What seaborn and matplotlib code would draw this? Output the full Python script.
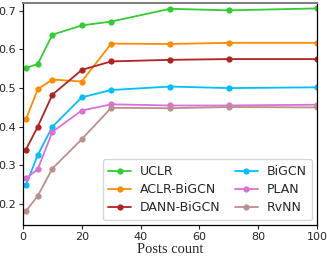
import matplotlib
matplotlib.use("Agg")
import matplotlib.pyplot as plt
import seaborn as sns
import pandas as pd

posts = [1, 5, 10, 20, 30, 50, 70, 100]
uclr = [0.552, 0.562, 0.638, 0.662, 0.672, 0.705, 0.701, 0.706]
aclr = [0.419, 0.497, 0.522, 0.517, 0.615, 0.614, 0.617, 0.617]
dann = [0.341, 0.400, 0.483, 0.547, 0.569, 0.573, 0.575, 0.575]
bigcn = [0.249, 0.327, 0.400, 0.476, 0.495, 0.504, 0.500, 0.502]
plan = [0.267, 0.290, 0.387, 0.442, 0.458, 0.455, 0.455, 0.457]
rvnn = [0.182, 0.221, 0.292, 0.368, 0.449, 0.448, 0.451, 0.450]

names = ["UCLR", "ACLR-BiGCN", "DANN-BiGCN", "BiGCN", "PLAN", "RvNN"]
series = [uclr, aclr, dann, bigcn, plan, rvnn]
colors = ["limegreen", "darkorange", "firebrick", "deepskyblue", "orchid", "rosybrown"]

rows = []
for n, s in zip(names, series):
    for x, y in zip(posts, s):
        rows.append({"Posts count": x, "value": y, "model": n})
df = pd.DataFrame(rows)

sns.set_style("ticks")
plt.rcParams['font.family'] = ['DejaVu Sans']

fig = plt.figure(figsize=(3.27, 2.56), dpi=100)
ax = fig.add_axes([23/327, 31/256, 294/327, 222/256])

sns.lineplot(data=df, x="Posts count", y="value", hue="model", hue_order=names,
             palette=colors, marker="o", markersize=4.5, markeredgewidth=0,
             linewidth=1.3, ax=ax)

ax.set_xlim(0, 100)
ax.set_ylim(0.146, 0.72)
ax.set_xticks([0, 20, 40, 60, 80, 100])
ax.set_yticks([0.2, 0.3, 0.4, 0.5, 0.6, 0.7])
ax.tick_params(labelsize=8, length=3, width=0.8, pad=2)
ax.set_ylabel("")
ax.set_xlabel("Posts count", family="Liberation Serif", fontsize=10.5, labelpad=1)
for sp in ["left", "bottom", "right"]:
    ax.spines[sp].set_color("black")
    ax.spines[sp].set_linewidth(0.9)
ax.spines["top"].set_color("gray")
ax.spines["top"].set_linewidth(1.5)

ax.legend(loc="lower right", ncol=2, fontsize=9, frameon=True,
          handlelength=1.8, handletextpad=0.7, columnspacing=1.2,
          labelspacing=0.42, borderpad=0.45, borderaxespad=0.4, title=None)

fig.savefig("out.png", dpi=100)
